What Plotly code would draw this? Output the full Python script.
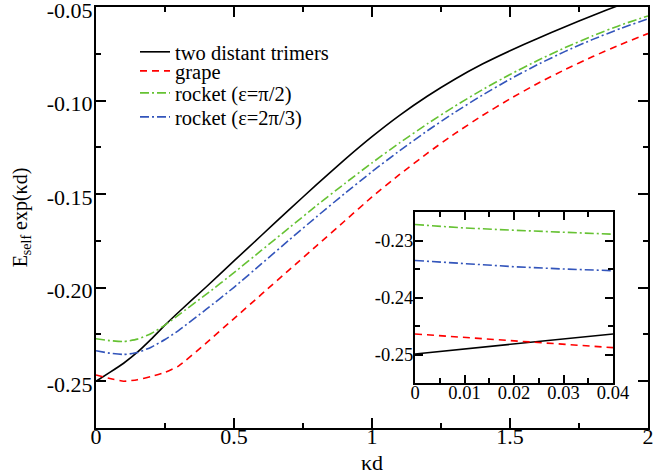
import plotly.graph_objects as go

# ---- main panel data ----
kd = [0, 0.05, 0.1, 0.15, 0.2, 0.25, 0.3, 0.4, 0.5, 0.6, 0.7, 0.8, 0.9,
      1.0, 1.1, 1.2, 1.3, 1.4, 1.5, 1.6, 1.7, 1.8, 1.9, 2.0]
two_trimers = [-0.2500, -0.2453, -0.2404, -0.2345, -0.2275, -0.2200, -0.2130, -0.1995, -0.1857, -0.1720,
               -0.1583, -0.1448, -0.1317,
               -0.1193, -0.1079, -0.0977, -0.0886, -0.0805, -0.0734, -0.0668, -0.0605, -0.0545, -0.0488, -0.0435]
grape = [-0.2467, -0.2485, -0.2500, -0.2492, -0.2475, -0.2453, -0.2418, -0.2295, -0.2165, -0.2035,
         -0.1905, -0.1775, -0.1645,
         -0.1515, -0.1395, -0.1282, -0.1177, -0.1080, -0.0991, -0.0909, -0.0834, -0.0765, -0.0701, -0.0642]
rocket_pi2 = [-0.2273, -0.2283, -0.2288, -0.2275, -0.2245, -0.2200, -0.2145, -0.2035, -0.1920, -0.1800,
              -0.1680, -0.1560, -0.1445,
              -0.1333, -0.1226, -0.1125, -0.1030, -0.0942, -0.0861, -0.0786, -0.0717, -0.0654, -0.0597, -0.0548]
rocket_2pi3 = [-0.2337, -0.2350, -0.2357, -0.2347, -0.2318, -0.2277, -0.2228, -0.2115, -0.1998, -0.1872,
               -0.1745, -0.1620, -0.1498,
               -0.1380, -0.1268, -0.1162, -0.1063, -0.0971, -0.0886, -0.0808, -0.0737, -0.0673, -0.0615, -0.0563]

# ---- inset data ----
kd_inset = [0, 0.01, 0.02, 0.03, 0.04]
two_trimers_inset = [-0.2499, -0.2490, -0.2481, -0.2473, -0.2464]
grape_inset = [-0.2464, -0.2470, -0.2476, -0.2482, -0.2488]
rocket_pi2_inset = [-0.2272, -0.2278, -0.2282, -0.2286, -0.2289]
rocket_2pi3_inset = [-0.2335, -0.2341, -0.2346, -0.2350, -0.2353]

names = ["two distant trimers", "grape", "rocket (ε=π/2)", "rocket (ε=2π/3)"]

# ---- tick labels ----
main_xticks = [0, 0.5, 1, 1.5, 2]
main_xlabels = ["0", "0.5", "1", "1.5", "2"]
main_yticks = [-0.25, -0.20, -0.15, -0.10, -0.05]
main_ylabels = ["-0.25", "-0.20", "-0.15", "-0.10", "-0.05"]
inset_xticks = [0, 0.01, 0.02, 0.03, 0.04]
inset_xlabels = ["0", "0.01", "0.02", "0.03", "0.04"]
inset_yticks = [-0.25, -0.24, -0.23]
inset_ylabels = ["-0.25", "-0.24", "-0.23"]

colors = ["#000000", "#ff0000", "#66c233", "#3355bb"]
dashes = ["solid", "7px,5px", "9px,3px,2px,3px", "9px,3px,2px,3px"]
main_series = [two_trimers, grape, rocket_pi2, rocket_2pi3]
inset_series = [two_trimers_inset, grape_inset, rocket_pi2_inset, rocket_2pi3_inset]
legend_ids = ["legend", "legend2", "legend3", "legend4"]

fig = go.Figure()
for i in range(4):
    fig.add_trace(go.Scatter(
        x=kd, y=main_series[i], mode="lines", name=names[i],
        line=dict(color=colors[i], width=1.6, dash=dashes[i], shape="spline", smoothing=0.5),
        legend=legend_ids[i], xaxis="x", yaxis="y"))
for i in range(4):
    fig.add_trace(go.Scatter(
        x=kd_inset, y=inset_series[i], mode="lines", name=names[i], showlegend=False,
        line=dict(color=colors[i], width=1.6, dash=dashes[i]),
        xaxis="x2", yaxis="y2"))

FONT = "Liberation Serif"

common_axis = dict(showline=True, linewidth=2, linecolor="black", mirror="allticks",
                   ticks="inside", tickwidth=2, tickcolor="black", showgrid=False,
                   zeroline=False, ticklabeloverflow="allow")

W, H = 671, 476
L, R, T, B = 96, 23, 7, 48
pw, ph = W - L - R, H - T - B

def px_to_paper_y(py):
    return (H - B - py) / ph

def px_to_paper_x(px):
    return (px - L) / pw

legend_rows = [52, 71, 93, 117]
legend_cfg = {}
for i, lid in enumerate(legend_ids):
    legend_cfg[lid] = dict(x=px_to_paper_x(135), y=px_to_paper_y(legend_rows[i]),
                           xanchor="left", yanchor="middle",
                           bgcolor="rgba(0,0,0,0)", borderwidth=0,
                           font=dict(family=FONT, size=20.5, color="black"),
                           itemwidth=30, tracegroupgap=0)

fig.update_layout(
    width=W, height=H,
    margin=dict(l=L, r=R, t=T, b=B, autoexpand=False),
    paper_bgcolor="white", plot_bgcolor="white",
    font=dict(family=FONT, size=22, color="black"),
    showlegend=True,
    xaxis=dict(domain=[0, 1], range=[0, 2], tickvals=main_xticks, ticktext=main_xlabels,
               ticklen=10, ticklabelstandoff=-12,
               minor=dict(dtick=0.25, tick0=0, ticklen=5, ticks="inside",
                          tickwidth=2, tickcolor="black"),
               title=dict(text="κd", standoff=6, font=dict(family=FONT, size=22)),
               tickfont=dict(family=FONT, size=22), **common_axis),
    yaxis=dict(domain=[0, 1], range=[-0.275, -0.05], tickvals=main_yticks, ticktext=main_ylabels,
               ticklen=10, ticklabelstandoff=-3, ticklabelshift=3,
               minor=dict(dtick=0.025, tick0=-0.25, ticklen=5, ticks="inside",
                          tickwidth=2, tickcolor="black"),
               title=dict(text="E<sub>self</sub> exp(κd)", standoff=14, font=dict(family=FONT, size=20)),
               tickfont=dict(family=FONT, size=22), **common_axis),
    xaxis2=dict(domain=[px_to_paper_x(415), px_to_paper_x(613)], range=[0, 0.04], anchor="y2",
                tickvals=inset_xticks, ticktext=inset_xlabels, ticklen=8, ticklabelstandoff=-8,
                minor=dict(dtick=0.005, tick0=0, ticklen=5, ticks="inside", tickwidth=2, tickcolor="black"),
                tickfont=dict(family=FONT, size=18.5), **common_axis),
    yaxis2=dict(domain=[px_to_paper_y(383), px_to_paper_y(212)], range=[-0.255, -0.225], anchor="x2",
                tickvals=inset_yticks, ticktext=inset_ylabels, ticklen=8, ticklabelstandoff=-4,
                minor=dict(dtick=0.005, tick0=-0.25, ticklen=5, ticks="inside", tickwidth=2, tickcolor="black"),
                tickfont=dict(family=FONT, size=18.5), **common_axis),
    **legend_cfg,
)

fig.write_html("out.html", config={"displayModeBar": False},
               post_script="document.body.style.margin='0px';")
